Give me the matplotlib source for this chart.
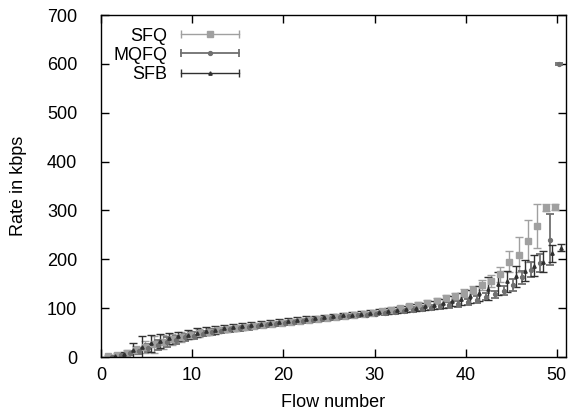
import matplotlib
matplotlib.use("Agg")
import matplotlib.pyplot as plt
from matplotlib.lines import Line2D
from matplotlib.legend_handler import HandlerBase

plt.rcParams["font.family"] = ["Liberation Sans", "DejaVu Sans"]
plt.rcParams["font.size"] = 13

flows = list(range(1, 51))

sfq_rate = [2, 5, 9, 14, 20, 26, 31, 36, 41, 45,
            49, 52, 55, 58, 60, 62, 64, 66, 68, 70,
            72, 74, 76, 78, 80, 82, 84, 86, 88, 90,
            94, 97, 100, 104, 107, 111, 115, 120, 125, 131,
            137, 147, 156, 169, 195, 209, 237, 269, 306, 307]
sfq_err = [2, 3, 5, 8, 12, 18, 15, 12, 10, 9,
           8, 7, 6, 6, 6, 5, 5, 5, 5, 5,
           5, 5, 5, 4, 4, 4, 4, 4, 4, 4,
           5, 5, 5, 5, 6, 6, 6, 7, 7, 8,
           8, 10, 12, 16, 22, 36, 43, 45, 8, 7]

mqfq_rate = [1, 4, 8, 13, 18, 24, 30, 35, 40, 44,
             48, 51, 54, 57, 59, 61, 63, 65, 67, 69,
             71, 73, 75, 77, 79, 81, 83, 85, 87, 89,
             91, 93, 95, 97, 99, 101, 104, 106, 109, 112,
             117, 123, 128, 136, 147, 163, 179, 193, 240, 600]
mqfq_err = [2, 3, 4, 6, 8, 10, 10, 9, 8, 7,
            6, 6, 5, 5, 5, 5, 4, 4, 4, 4,
            4, 4, 4, 4, 4, 4, 4, 4, 4, 4,
            4, 4, 4, 5, 5, 5, 5, 6, 6, 6,
            7, 7, 8, 9, 12, 14, 15, 18, 52, 2]

sfb_rate = [3, 7, 14, 21, 28, 33, 38, 42, 46, 50,
            53, 56, 59, 61, 63, 65, 67, 69, 71, 73,
            75, 77, 79, 81, 83, 85, 87, 89, 91, 93,
            95, 97, 99, 101, 104, 107, 110, 114, 119, 124,
            130, 140, 150, 155, 165, 177, 187, 195, 212, 224]
sfb_err = [2, 4, 15, 22, 17, 15, 12, 10, 9, 9,
           8, 8, 7, 7, 7, 6, 6, 6, 6, 6,
           6, 6, 5, 5, 5, 5, 5, 5, 5, 5,
           6, 6, 6, 7, 7, 8, 9, 10, 12, 14,
           16, 24, 23, 22, 22, 22, 22, 22, 18, 7]

# name, rates, errors, x offset, colour, marker, marker size, line width
series = [
    ("SFQ", sfq_rate, sfq_err, -0.2, "#a0a0a0", "s", 3.8, 1.0),
    ("MQFQ", mqfq_rate, mqfq_err, 0.2, "#707070", "o", 2.8, 1.3),
    ("SFB", sfb_rate, sfb_err, 0.5, "#303030", "^", 2.4, 1.0),
]
styles = {}


class GnuplotKey(HandlerBase):
    # horizontal errorbar sample like gnuplot's key
    def create_artists(self, legend, orig_handle, xdescent, ydescent,
                       width, height, fontsize, trans):
        color, marker, ms, lw = styles[orig_handle.get_label()]
        y = height / 2 - ydescent
        x0, x1 = -xdescent, width - xdescent
        line = Line2D([x0, x1], [y, y], color=color, lw=lw)
        caps = Line2D([x0, x1], [y, y], ls="none", marker="|", ms=6,
                      mew=lw, color=color)
        mk = Line2D([(x0 + x1) / 2], [y], ls="none", marker=marker, ms=ms,
                    color=color, mec=color)
        for a in (line, caps, mk):
            a.set_transform(trans)
        return [line, caps, mk]


fig = plt.figure(figsize=(5.76, 4.18), dpi=100)
ax = fig.add_axes([0.1753, 0.1459, 0.8073, 0.8182])

proxies = []
for name, rate, err, off, color, marker, ms, lw in series:
    xs = [f + off for f in flows]
    ax.errorbar(xs, rate, yerr=err, fmt=marker, ms=ms, color=color,
                mec=color, ecolor=color, elinewidth=lw, capsize=3,
                capthick=lw)
    styles[name] = (color, marker, ms, lw)
    proxies.append(Line2D([], [], label=name))

ax.set_xlim(0, 51)
ax.set_ylim(0, 700)
ax.set_xticks(range(0, 51, 10))
ax.set_yticks(range(0, 701, 100))
ax.tick_params(direction="in", top=True, right=True, length=6, width=1,
               labelsize=13)
ax.tick_params(axis="y", pad=17)
ax.tick_params(axis="x", pad=7)
for s in ax.spines.values():
    s.set_linewidth(1.0)
ax.set_xlabel("Flow number", fontsize=13, va="center")
ax.set_ylabel("Rate in kbps", fontsize=13, va="center")
ax.xaxis.set_label_coords(0.5, -0.132)
ax.yaxis.set_label_coords(-0.178, 0.5)

ax.legend(handles=proxies, handler_map={Line2D: GnuplotKey()},
          loc="upper left", bbox_to_anchor=(0.0, 1.0), frameon=False,
          markerfirst=False, handlelength=3.2, handletextpad=0.75,
          labelspacing=0.12, fontsize=13, borderaxespad=0.4,
          borderpad=0.3)

fig.savefig("out.png", dpi=100)
